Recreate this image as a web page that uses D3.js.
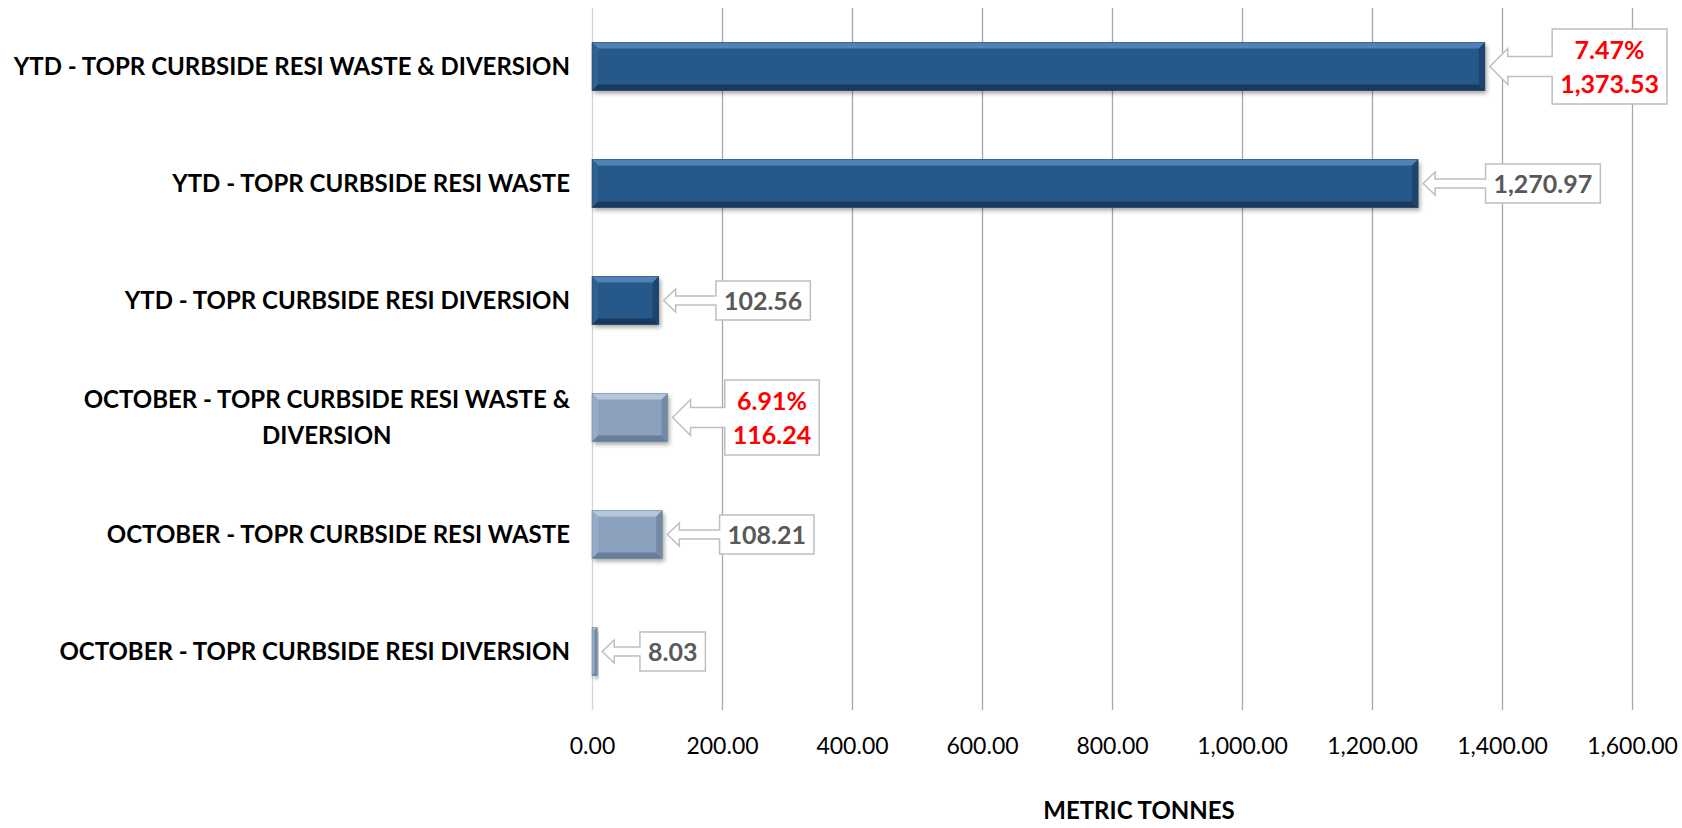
<!DOCTYPE html>
<html>
<head>
<meta charset="utf-8">
<script src="https://cdn.jsdelivr.net/npm/d3@7"></script>
<style>
  body { margin: 0; background: #fff; }
  text { font-family: Lato, "Open Sans", sans-serif; }
</style>
</head>
<body>
<div class="chart"></div>
<script>
const categories = [
  "YTD - TOPR CURBSIDE RESI WASTE & DIVERSION",
  "YTD - TOPR CURBSIDE RESI WASTE",
  "YTD - TOPR CURBSIDE RESI DIVERSION",
  "OCTOBER - TOPR CURBSIDE RESI WASTE & DIVERSION",
  "OCTOBER - TOPR CURBSIDE RESI WASTE",
  "OCTOBER - TOPR CURBSIDE RESI DIVERSION"
]
const values = [1373.53, 1270.97, 102.56, 116.24, 108.21, 8.03]
const periods = ["YTD", "YTD", "YTD", "OCTOBER", "OCTOBER", "OCTOBER"]
const percents = ["7.47%", null, null, "6.91%", null, null]
const ticks = [0, 200, 400, 600, 800, 1000, 1200, 1400, 1600]

const width = 1682
const height = 828
const margin = { top: 8, right: 50, bottom: 118, left: 592 }

const svg = d3.select(".chart")
  .append("svg")
  .attr("width", width)
  .attr("height", height)

const x = d3.scaleLinear()
  .domain([0, 1600])
  .range([margin.left, width - margin.right])

const y = d3.scaleBand()
  .domain(categories)
  .range([margin.top, height - margin.bottom])
  .paddingInner(0.59)
  .paddingOuter(0.295)

const palette = {
  YTD:     { base: "#26588a", top: "#4f83b8", left: "#31628f", bottom: "#193a5c", right: "#1d456e" },
  OCTOBER: { base: "#8ca1bd", top: "#b8c6d9", left: "#98abc4", bottom: "#687d99", right: "#7489a6" }
}

const defs = svg.append("defs")
defs.append("filter")
  .attr("id", "shadow")
  .attr("x", "-20%").attr("y", "-30%").attr("width", "140%").attr("height", "170%")
  .append("feDropShadow")
  .attr("dx", 2).attr("dy", 3).attr("stdDeviation", 2)
  .attr("flood-color", "#000").attr("flood-opacity", 0.35)

// gridlines + tick labels
const axisY = height - margin.bottom
const xAxis = svg.append("g")
  .attr("transform", `translate(0,${axisY})`)
  .call(d3.axisBottom(x)
    .tickValues(ticks)
    .tickSize(-(axisY - margin.top))
    .tickFormat(d3.format(",.2f")))
xAxis.select(".domain").remove()
xAxis.selectAll(".tick line")
  .attr("stroke", d => d === 0 ? "#d4d4d4" : "#a8a8a8")
  .attr("stroke-width", 1.3)
xAxis.selectAll(".tick text")
  .attr("y", 44)
  .attr("dy", null)
  .attr("fill", "#000")
  .style("font-size", "23px")
  .style("font-family", "Lato, sans-serif")

svg.append("text")
  .attr("x", 1139)
  .attr("y", 819)
  .attr("text-anchor", "middle")
  .style("font-size", "24px")
  .style("font-weight", "bold")
  .text("METRIC TONNES")

// category labels, wrapped like Excel
const labelRight = 570
const labelMax = 565
const labels = svg.append("g")
categories.forEach(cat => {
  const t = labels.append("text")
    .style("font-size", "24px")
    .style("font-weight", "bold")
    .attr("fill", "#000")
  const words = cat.split(" ")
  let lines = []
  let line = []
  const probe = t.append("tspan")
  words.forEach(w => {
    line.push(w)
    probe.text(line.join(" "))
    if (probe.node().getComputedTextLength() > labelMax && line.length > 1) {
      line.pop()
      lines.push(line.join(" "))
      line = [w]
    }
  })
  lines.push(line.join(" "))
  probe.remove()

  // widest line decides the block; lines centred inside it
  let widest = 0
  lines.forEach(l => {
    probe.text(l)
    t.node().appendChild(probe.node())
    widest = Math.max(widest, probe.node().getComputedTextLength())
    probe.remove()
  })
  const cx = labelRight - widest / 2
  const cy = y(cat) + y.bandwidth() / 2
  const lh = 36
  t.attr("text-anchor", "middle")
  lines.forEach((l, i) => {
    t.append("tspan")
      .attr("x", cx)
      .attr("y", cy + (i - (lines.length - 1) / 2) * lh + 8)
      .text(l)
  })
})

// bars with bevel
const bars = svg.selectAll(".bar")
  .data(categories.map((c, i) => ({ cat: c, value: values[i], period: periods[i], pct: percents[i] })))
  .enter()
  .append("g")
  .attr("class", "bar")

bars.each(function(d) {
  const g = d3.select(this)
  const c = palette[d.period]
  const x0 = x(0), y0 = y(d.cat)
  const w = x(d.value) - x(0), h = y.bandwidth()
  const b = Math.min(6, w / 2)
  g.append("rect")
    .attr("x", x0).attr("y", y0).attr("width", w).attr("height", h)
    .attr("fill", c.base)
    .attr("filter", "url(#shadow)")
  const poly = (pts, fill) => g.append("polygon")
    .attr("points", pts.map(p => p.join(",")).join(" "))
    .attr("fill", fill)
  poly([[x0, y0], [x0 + w, y0], [x0 + w - b, y0 + b], [x0 + b, y0 + b]], c.top)
  poly([[x0, y0], [x0 + b, y0 + b], [x0 + b, y0 + h - b], [x0, y0 + h]], c.left)
  poly([[x0, y0 + h], [x0 + b, y0 + h - b], [x0 + w - b, y0 + h - b], [x0 + w, y0 + h]], c.bottom)
  poly([[x0 + w, y0], [x0 + w, y0 + h], [x0 + w - b, y0 + h - b], [x0 + w - b, y0 + b]], c.right)
  g.append("rect")
    .attr("x", x0).attr("y", y0).attr("width", w).attr("height", h)
    .attr("fill", "none").attr("stroke", c.bottom).attr("stroke-opacity", 0.5)
})

// callouts
const fmt = d3.format(",.2f")
bars.each(function(d) {
  const g = d3.select(this)
  const lines = d.pct ? [d.pct, fmt(d.value)] : [fmt(d.value)]
  const color = d.pct ? "#ff0000" : "#595959"
  const cy = y(d.cat) + y.bandwidth() / 2
  const end = x(d.value)

  const txt = g.append("text")
    .attr("text-anchor", "middle")
    .attr("fill", color)
    .style("font-size", "25px")
    .style("font-weight", "bold")
  const lh = 34
  lines.forEach((l, i) => {
    txt.append("tspan")
      .attr("y", cy + (i - (lines.length - 1) / 2) * lh + 9)
      .text(l)
  })
  let tw = 0
  txt.selectAll("tspan").each(function() { tw = Math.max(tw, this.getComputedTextLength()) })

  const bw = tw + 16
  const bh = lines.length === 1 ? 39 : 75
  const bx = end + 10 + bw / 2
  const by = cy - bh / 2
  const tip = end + 5
  const headLen = lines.length === 1 ? 12 : 18
  const headH = lines.length === 1 ? 11.5 : 18
  const shaftH = lines.length === 1 ? 4.5 : 10

  const p = d3.path()
  p.moveTo(bx, by)
  p.lineTo(bx + bw, by)
  p.lineTo(bx + bw, by + bh)
  p.lineTo(bx, by + bh)
  p.lineTo(bx, cy + shaftH)
  p.lineTo(tip + headLen, cy + shaftH)
  p.lineTo(tip + headLen, cy + headH)
  p.lineTo(tip, cy)
  p.lineTo(tip + headLen, cy - headH)
  p.lineTo(tip + headLen, cy - shaftH)
  p.lineTo(bx, cy - shaftH)
  p.closePath()
  g.insert("path", "text")
    .attr("d", p.toString())
    .attr("fill", "#fff")
    .attr("stroke", "#bfbfbf")
    .attr("stroke-width", 1.5)

  txt.selectAll("tspan").attr("x", bx + bw / 2)
})
</script>
</body>
</html>
